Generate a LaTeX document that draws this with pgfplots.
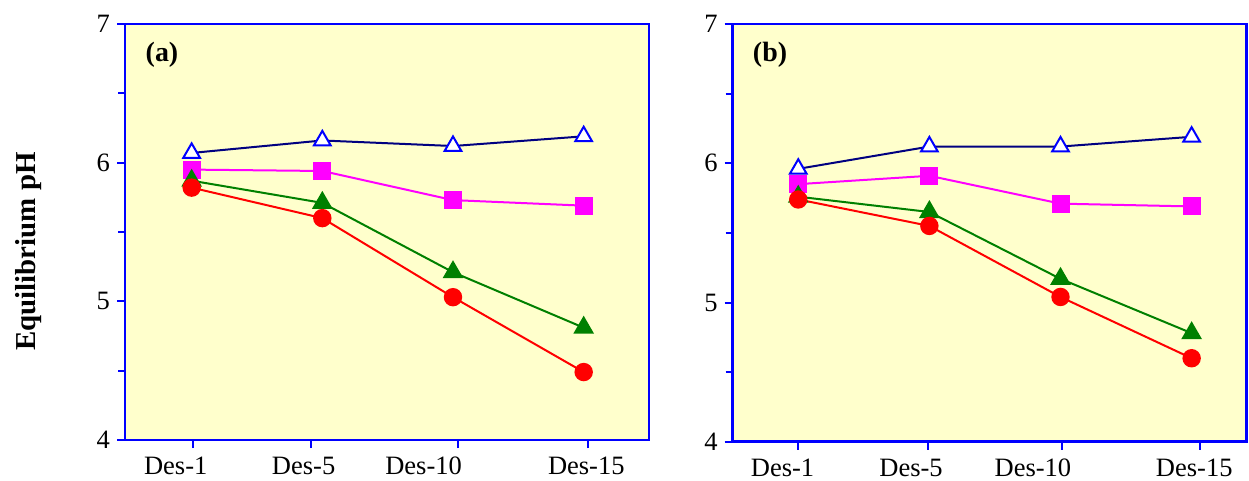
\documentclass[border=0pt]{standalone}
\usepackage{pgfplots}
\pgfplotsset{compat=1.18}
\usepackage{fontspec}
\setmainfont{Liberation Serif}
\definecolor{bgyellow}{HTML}{FFFFCC}
\definecolor{axblue}{HTML}{0000FF}
\definecolor{navyline}{HTML}{000080}
\definecolor{magline}{HTML}{FF00FF}
\definecolor{greenline}{HTML}{008000}
\definecolor{redline}{HTML}{FF0000}

\pgfplotstableread{
x   tri   sq    gtri  circ
1   6.07  5.95  5.87  5.82
2   6.16  5.94  5.71  5.60
3   6.12  5.73  5.21  5.03
4   6.19  5.69  4.81  4.49
}\dataA
\pgfplotstableread{
x   tri   sq    gtri  circ
1   5.96  5.85  5.76  5.74
2   6.12  5.91  5.65  5.55
3   6.12  5.71  5.17  5.04
4   6.19  5.69  4.78  4.60
}\dataB

\pgfplotsset{
  panel/.style={
    scale only axis,
    ymin=4, ymax=7,
    axis background/.style={fill=bgyellow},
    axis line style={axblue, line width=1.3bp},
    every tick/.style={axblue, line width=1bp},
    ytick={4,5,6,7},
    minor ytick={4.5,5.5,6.5},
    tick pos=left,
    tick align=outside,
    major tick length=4bp,
    minor tick length=3.5bp,
    xticklabels={},
    extra x tick style={major tick length=0pt, tick style={draw=none}},
    tick label style={font=\fontsize{13.3}{15}\selectfont},
    xticklabel style={anchor=base, yshift=-17.5bp},
    /pgf/number format/assume math mode=true,
    clip=false,
  },
  s1/.style={navyline, line width=1bp, mark=triangle*, mark size=4.8bp,
     mark options={draw=axblue, fill=white, line width=1bp}},
  s2/.style={magline, line width=1bp, mark=square*, mark size=4bp,
     mark options={draw=magline, fill=magline}},
  s3/.style={greenline, line width=1bp, mark=triangle*, mark size=5bp,
     mark options={draw=greenline, fill=greenline}},
  s4/.style={redline, line width=1bp, mark=*, mark size=4.1bp,
     mark options={draw=redline, fill=redline}},
}

\begin{document}
\begin{tikzpicture}
\useasboundingbox (0,0) rectangle (624.5bp,240.5bp);

\begin{axis}[panel,
  at={(62.5bp,20.5bp)}, anchor=south west,
  width=262bp, height=208bp,
  xmin=0.49, xmax=4.5,
  xtick={1.008,1.91,3.035,4.03},
  extra x ticks={0.878,1.857,2.775,4.02},
  extra x tick labels={Des-1,Des-5,Des-10,Des-15},
]
\addplot[s1] table[x=x,y=tri]{\dataA};
\addplot[s2] table[x=x,y=sq]{\dataA};
\addplot[s3] table[x=x,y=gtri]{\dataA};
\addplot[s4] table[x=x,y=circ]{\dataA};
\end{axis}

\begin{axis}[panel,
  at={(366.35bp,19.6bp)}, anchor=south west,
  width=257bp, height=208.9bp,
  xmin=0.5, xmax=4.42,
  xtick={1.0,1.99,3.01,4.06},
  extra x ticks={0.88,1.86,2.79,4.02},
  extra x tick labels={Des-1,Des-5,Des-10,Des-15},
]
\addplot[s1] table[x=x,y=tri]{\dataB};
\addplot[s2] table[x=x,y=sq]{\dataB};
\addplot[s3] table[x=x,y=gtri]{\dataB};
\addplot[s4] table[x=x,y=circ]{\dataB};
\end{axis}

\node[rotate=90, font=\fontsize{14.5}{16}\selectfont\bfseries] at (14.25bp,114.75bp) {Equilibrium pH};
\node[font=\fontsize{14}{16}\selectfont\bfseries] at (81bp,213bp) {(a)};
\node[font=\fontsize{14}{16}\selectfont\bfseries] at (385bp,213bp) {(b)};
\end{tikzpicture}
\end{document}
